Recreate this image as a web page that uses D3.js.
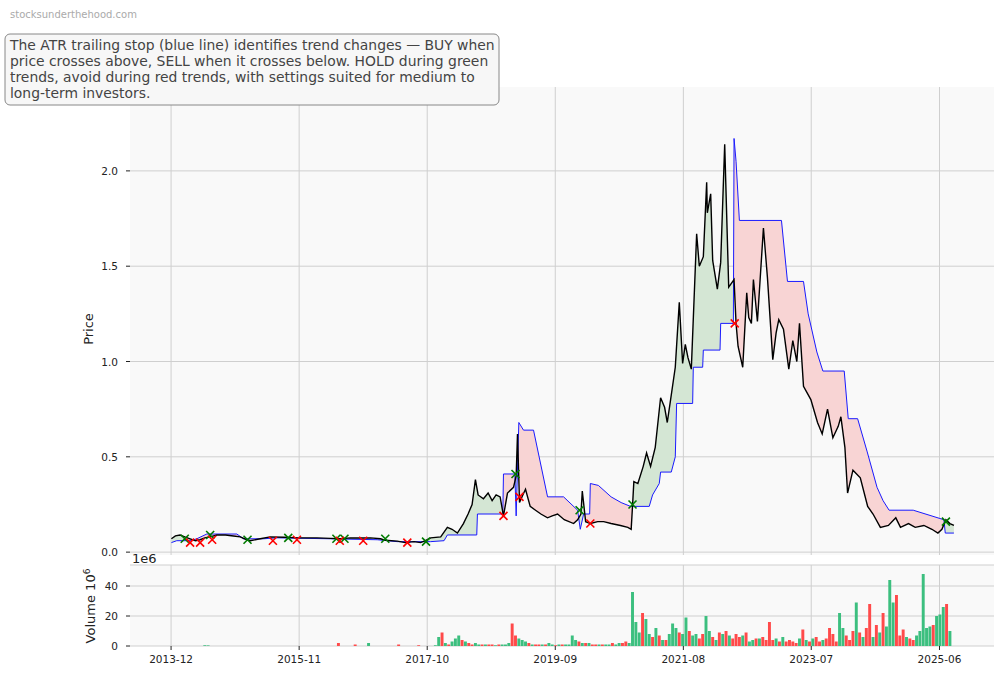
<!DOCTYPE html>
<html><head><meta charset="utf-8">
<script src="https://cdn.jsdelivr.net/npm/d3@7"></script>
<style>body{margin:0;background:#fff;font-family:"DejaVu Sans",sans-serif}</style>
</head><body><svg id="c" width="1004" height="678"></svg>
<script>
// price points [decimal year, price]
const pricePts = [[2013.92,0.07],[2013.98,0.085],[2014.05,0.09],[2014.12,0.08],[2014.2,0.07],[2014.28,0.06],[2014.35,0.065],[2014.42,0.075],[2014.5,0.08],[2014.6,0.09],[2014.73,0.09],[2014.85,0.085],[2014.95,0.08],[2015.05,0.065],[2015.1,0.06],[2015.25,0.07],[2015.4,0.08],[2015.6,0.078],[2015.82,0.075],[2016.1,0.075],[2016.3,0.072],[2016.45,0.07],[2016.6,0.075],[2016.75,0.074],[2016.9,0.075],[2017.05,0.07],[2017.12,0.062],[2017.3,0.058],[2017.42,0.05],[2017.55,0.055],[2017.65,0.05],[2017.72,0.06],[2017.8,0.075],[2017.95,0.08],[2018.05,0.13],[2018.12,0.12],[2018.2,0.1],[2018.29,0.15],[2018.36,0.2],[2018.42,0.25],[2018.47,0.38],[2018.51,0.3],[2018.59,0.28],[2018.66,0.31],[2018.72,0.27],[2018.78,0.3],[2018.84,0.29],[2018.89,0.19],[2018.95,0.31],[2019.04,0.34],[2019.08,0.4],[2019.1,0.62],[2019.13,0.26],[2019.18,0.3],[2019.22,0.33],[2019.29,0.24],[2019.37,0.22],[2019.45,0.2],[2019.55,0.18],[2019.62,0.19],[2019.7,0.2],[2019.8,0.17],[2019.94,0.15],[2020.0,0.17],[2020.05,0.2],[2020.07,0.32],[2020.12,0.16],[2020.19,0.15],[2020.3,0.16],[2020.39,0.16],[2020.5,0.15],[2020.64,0.14],[2020.75,0.13],[2020.8,0.12],[2020.82,0.24],[2020.84,0.37],[2020.9,0.36],[2020.98,0.45],[2021.03,0.52],[2021.09,0.45],[2021.16,0.55],[2021.24,0.81],[2021.3,0.76],[2021.34,0.68],[2021.39,0.8],[2021.46,0.97],[2021.52,1.31],[2021.57,0.99],[2021.61,1.09],[2021.65,1.02],[2021.7,0.96],[2021.78,1.67],[2021.82,1.5],[2021.88,1.55],[2021.93,1.94],[2021.94,1.78],[2021.99,1.88],[2022.02,1.53],[2022.09,1.38],[2022.14,1.52],[2022.2,2.14],[2022.26,1.39],[2022.34,1.43],[2022.37,1.2],[2022.4,1.08],[2022.47,0.97],[2022.53,1.36],[2022.56,1.23],[2022.6,1.2],[2022.63,1.43],[2022.69,1.21],[2022.78,1.7],[2022.84,1.44],[2022.92,1.01],[2022.97,1.15],[2023.01,1.22],[2023.08,1.17],[2023.16,0.96],[2023.22,1.11],[2023.28,1.0],[2023.32,1.2],[2023.38,0.87],[2023.49,0.8],[2023.59,0.68],[2023.66,0.62],[2023.74,0.75],[2023.82,0.6],[2023.9,0.66],[2023.94,0.71],[2024.0,0.55],[2024.04,0.31],[2024.12,0.43],[2024.23,0.39],[2024.34,0.24],[2024.42,0.2],[2024.53,0.13],[2024.65,0.14],[2024.76,0.18],[2024.83,0.13],[2024.95,0.15],[2025.05,0.13],[2025.18,0.14],[2025.3,0.12],[2025.39,0.1],[2025.45,0.12],[2025.51,0.17],[2025.57,0.15],[2025.63,0.14]];
// ATR trailing stop points [decimal year, stop]
const stopPts = [[2013.92,0.05],[2014.0,0.06],[2014.2,0.06],[2014.3,0.07],[2014.45,0.095],[2014.9,0.095],[2015.0,0.07],[2015.3,0.07],[2015.5,0.075],[2016.3,0.07],[2017.0,0.065],[2017.3,0.055],[2017.8,0.055],[2018.0,0.06],[2018.05,0.09],[2018.49,0.09],[2018.5,0.2],[2018.88,0.2],[2018.89,0.41],[2019.06,0.41],[2019.08,0.19],[2019.12,0.68],[2019.19,0.64],[2019.34,0.64],[2019.55,0.29],[2019.79,0.29],[2020.0,0.22],[2020.04,0.12],[2020.09,0.2],[2020.18,0.2],[2020.19,0.36],[2020.31,0.35],[2020.5,0.29],[2020.65,0.26],[2020.79,0.24],[2021.07,0.24],[2021.12,0.3],[2021.22,0.36],[2021.24,0.42],[2021.4,0.42],[2021.46,0.5],[2021.48,0.78],[2021.72,0.78],[2021.73,0.97],[2021.87,0.97],[2021.88,1.06],[2022.13,1.06],[2022.14,1.2],[2022.33,1.2],[2022.34,2.17],[2022.37,2.05],[2022.42,1.74],[2023.05,1.74],[2023.14,1.42],[2023.38,1.42],[2023.45,1.25],[2023.58,1.05],[2023.67,0.95],[2023.99,0.95],[2024.05,0.7],[2024.19,0.7],[2024.33,0.53],[2024.48,0.34],[2024.57,0.27],[2024.66,0.22],[2025.02,0.22],[2025.48,0.17],[2025.5,0.1],[2025.63,0.1]];
const buyPts = [[2014.12,0.07],[2014.5,0.09],[2015.06,0.065],[2015.67,0.075],[2016.39,0.07],[2016.51,0.07],[2017.12,0.07],[2017.73,0.055],[2019.07,0.41],[2020.03,0.22],[2020.82,0.25],[2025.51,0.16]];
const sellPts = [[2014.2,0.05],[2014.35,0.05],[2014.53,0.065],[2015.44,0.06],[2015.8,0.065],[2016.44,0.06],[2016.79,0.06],[2017.45,0.05],[2018.89,0.19],[2019.13,0.29],[2020.19,0.15],[2022.35,1.2]];
// weekly-ish volume (millions), from 2013.92, step 0.05 yr
const volStart = 2013.92, volStep = 0.05;
const volume = [0,0,0,0,0,0,0,0,0,0,0.5,0.4,0,0,0,0,0,0,0,0, 0,0,0,0,0,0,0,0,0,0,0,0,0,0,0,0,0,0,0,0, 0,0,0,0,0,0,0,0,0,0,2,0,0,0,0,1,0,0,0,2, 0,0,0,0,0,0,0,0,1,0,0,0,0,0,0.5,0,0,0,0,0.5,
6,9,2,1,3,5,7,4,3,2,1,2,1,1,1,1,1,0.5,1,1,
1,2,15,7,5,4,3,2,1,1,1,1,1,2,1,0.5,1,1,1,1,
7,4,3,2,2,2,1,1,1,1,1,1,2,1,2,2,3,2,36,16,
9,22,18,8,6,12,7,4,4,8,15,12,9,8,19,10,7,8,5,8,
20,10,6,4,9,8,10,7,5,8,6,7,9,3,4,5,5,6,4,16,
4,5,3,6,3,4,3,2,5,11,4,3,5,6,3,4,5,12,8,3,
22,12,7,4,10,29,9,6,12,28,6,14,9,22,13,44,29,34,7,11,
6,5,4,7,10,48,12,13,14,20,21,26,28,10];
const volUp = "00000000001100000000000000000000000000000000000000000000000100000000000000000001"+
"10101110100110100101"+"11001110100101101011"+"11010100101101100111"+"10110101011101101100"+
"11010101000101101000"+"01010000101010010000"+"11000101001010111000"+"10011111011101";
const xTicks = ["2013-12","2015-11","2017-10","2019-09","2021-08","2023-07","2025-06"];
const yTicks = [0,0.5,1.0,1.5,2.0];
const vTicks = [0,20,40];

const svg = d3.select("#c");
const toDate = t => { const y=Math.floor(t); const s=new Date(y,0,1), e=new Date(y+1,0,1); return new Date(+s+(t-y)*(e-s)); };
const L=130,R=994, pT=87,pB=555, vT=565,vB=646;
const x = d3.scaleTime().domain([toDate(2013.30),toDate(2026.23)]).range([L,R]);
const y = d3.scaleLinear().domain([-0.015,2.44]).range([pB,pT]);
const yv = d3.scaleLinear().domain([0,54]).range([vB,vT]);

svg.append("text").attr("x",10).attr("y",18).attr("font-size",10).attr("fill","#aaa").text("stocksunderthehood.com");
[[pT,pB],[vT,vB]].forEach(([a,b])=>svg.append("rect").attr("x",L).attr("y",a).attr("width",R-L).attr("height",b-a).attr("fill","#f9f9f9"));

const tickDates = xTicks.map(s=>{const [yy,mm]=s.split("-").map(Number);return new Date(yy,mm-1,1);});
const grid = svg.append("g").attr("stroke","#cfcfcf").attr("stroke-width",1);
tickDates.forEach(d=>{[[pT,pB],[vT,vB]].forEach(([a,b])=>grid.append("line").attr("x1",x(d)).attr("x2",x(d)).attr("y1",a).attr("y2",b));});
yTicks.forEach(v=>grid.append("line").attr("x1",L).attr("x2",R).attr("y1",y(v)).attr("y2",y(v)));
vTicks.forEach(v=>grid.append("line").attr("x1",L).attr("x2",R).attr("y1",yv(v)).attr("y2",yv(v)));
grid.append("line").attr("x1",L).attr("x2",R).attr("y1",vT).attr("y2",vT);

const pInt = t => { const i=d3.bisector(d=>d[0]).left(pricePts,t); if(i<=0) return pricePts[0][1]; if(i>=pricePts.length) return pricePts.at(-1)[1]; const a=pricePts[i-1],b=pricePts[i]; return a[1]+(b[1]-a[1])*(t-a[0])/(b[0]-a[0]); };
const sInt = t => { const i=d3.bisector(d=>d[0]).left(stopPts,t); if(i<=0) return stopPts[0][1]; if(i>=stopPts.length) return stopPts.at(-1)[1]; const a=stopPts[i-1],b=stopPts[i]; return a[1]+(b[1]-a[1])*(t-a[0])/(b[0]-a[0]); };
const ts = Array.from(new Set(pricePts.map(d=>d[0]).concat(stopPts.map(d=>d[0])))).sort((a,b)=>a-b);
const merged = ts.map(t=>({t,p:pInt(t),s:sInt(t)}));
const fine=[]; for(let i=0;i<merged.length;i++){fine.push(merged[i]); if(i<merged.length-1){const a=merged[i],b=merged[i+1]; for(let k=1;k<6;k++){const t=a.t+(b.t-a.t)*k/6; fine.push({t,p:pInt(t),s:sInt(t)});}}}
svg.append("path").datum(fine).attr("fill","#d4e6d4").attr("d",d3.area().x(d=>x(toDate(d.t))).y0(d=>y(d.s)).y1(d=>y(Math.max(d.p,d.s))));
svg.append("path").datum(fine).attr("fill","#f8d4d4").attr("d",d3.area().x(d=>x(toDate(d.t))).y0(d=>y(d.p)).y1(d=>y(Math.max(d.p,d.s))));

svg.append("path").datum(stopPts).attr("fill","none").attr("stroke","#1a1aff").attr("stroke-width",1).attr("d",d3.line().x(d=>x(toDate(d[0]))).y(d=>y(d[1])));
svg.append("path").datum(pricePts).attr("fill","none").attr("stroke","#000").attr("stroke-width",1.4).attr("d",d3.line().x(d=>x(toDate(d[0]))).y(d=>y(d[1])));

const cross=(pts,col)=>pts.forEach(d=>{const cx=x(toDate(d[0])),cy=y(d[1]);svg.append("path").attr("d",`M${cx-4},${cy-4}L${cx+4},${cy+4}M${cx-4},${cy+4}L${cx+4},${cy-4}`).attr("stroke",col).attr("stroke-width",1.6);});
cross(buyPts,"#007a00"); cross(sellPts,"#ff0000");

const bw = Math.max(1.5, x(toDate(volStart+volStep))-x(toDate(volStart))-0.4);
svg.append("g").selectAll("rect").data(volume).join("rect")
  .attr("x",(v,i)=>x(toDate(volStart+i*volStep))-bw/2).attr("width",bw)
  .attr("y",v=>yv(v)).attr("height",v=>vB-yv(v))
  .attr("fill",(v,i)=>volUp[i]==="1"?"#3cbf7f":"#ff4a4a");

const tf = svg.append("g").attr("font-size",10.5).attr("fill","#222");
tickDates.forEach((d,i)=>{tf.append("line").attr("x1",x(d)).attr("x2",x(d)).attr("y1",vB).attr("y2",vB+4).attr("stroke","#222");
  tf.append("text").attr("x",x(d)).attr("y",vB+17).attr("text-anchor","middle").text(xTicks[i]);});
yTicks.forEach(v=>{tf.append("text").attr("x",L-12).attr("y",y(v)+4).attr("text-anchor","end").text(d3.format(".1f")(v));
  tf.append("line").attr("x1",L-4).attr("x2",L).attr("y1",y(v)).attr("y2",y(v)).attr("stroke","#222");});
vTicks.forEach(v=>{tf.append("text").attr("x",L-12).attr("y",yv(v)+4).attr("text-anchor","end").text(v);
  tf.append("line").attr("x1",L-4).attr("x2",L).attr("y1",yv(v)).attr("y2",yv(v)).attr("stroke","#222");});
svg.append("text").attr("x",132).attr("y",563).attr("font-size",13).attr("fill","#222").text("1e6");
svg.append("text").attr("transform","translate(93,329) rotate(-90)").attr("text-anchor","middle").attr("font-size",13).attr("fill","#222").text("Price");
const vl = svg.append("text").attr("transform","translate(95,606) rotate(-90)").attr("text-anchor","middle").attr("font-size",13).attr("fill","#222");
vl.append("tspan").text("Volume 10");
vl.append("tspan").attr("dy",-5).attr("font-size",9).text("6");

svg.append("rect").attr("x",5).attr("y",34).attr("width",494).attr("height",71).attr("rx",5).attr("fill","#f7f7f7").attr("stroke","#888").attr("stroke-width",1);
const lines=["The ATR trailing stop (blue line) identifies trend changes — BUY when","price crosses above, SELL when it crosses below. HOLD during green","trends, avoid during red trends, with settings suited for medium to","long-term investors."];
lines.forEach((s,i)=>svg.append("text").attr("x",10).attr("y",50+i*16).attr("font-size",13.9).attr("fill","#444").text(s));
</script></body></html>
